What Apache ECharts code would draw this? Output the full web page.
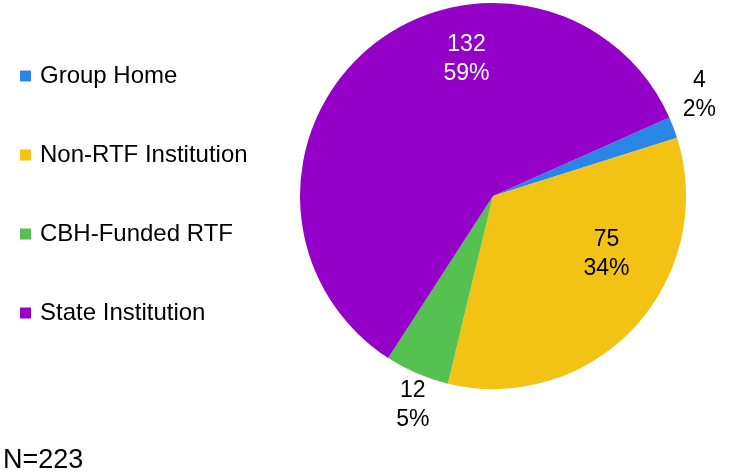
<!DOCTYPE html>
<html>
<head>
<meta charset="utf-8">
<script src="https://cdn.jsdelivr.net/npm/echarts@6/dist/echarts.min.js"></script>
<style>
  html, body { margin: 0; padding: 0; background: #fff; }
  #chart { width: 730px; height: 475px; }
</style>
</head>
<body>
<div id="chart"></div>
<script>
// Placement outcomes
const categories = ['Group Home', 'Non-RTF Institution', 'CBH-Funded RTF', 'State Institution'];
const counts = [4, 75, 12, 132];
const percents = ['2%', '34%', '5%', '59%'];
const totalLabel = 'N=223';

const colors = ['#2a86e6', '#f2c314', '#55c150', '#9400c8'];
const labelColors = ['#000', '#000', '#000', '#fff'];

// Label placement in polar terms: angle (deg, counter-clockwise from 3 o'clock)
// and distance as a fraction of the pie radius.
const labelAngle = [26, -27, -111, 101];
const labelRadius = [1.19, 0.66, 1.16, 0.72];

const cx = 493, cy = 196, R = 193;
const FONT = '"Liberation Sans", Arial, sans-serif';

const chart = echarts.init(document.getElementById('chart'), null, { renderer: 'canvas' });

chart.setOption({
  animation: false,
  color: colors,
  graphic: [{
    type: 'text',
    left: 3,
    top: 447,
    style: { text: totalLabel, fontFamily: FONT, fontSize: 27, fill: '#000' }
  }],
  legend: {
    orient: 'vertical',
    left: 15,
    top: 59,
    itemWidth: 11,
    itemHeight: 11,
    itemGap: 55,
    icon: 'rect',
    data: categories,
    textStyle: { fontFamily: FONT, fontSize: 24, color: '#000', lineHeight: 24, padding: [0, 0, 0, 4] }
  },
  series: [{
    type: 'pie',
    center: [cx, cy],
    radius: [0, R],
    startAngle: 24,
    clockwise: true,
    avoidLabelOverlap: false,
    itemStyle: { borderWidth: 0 },
    label: {
      show: true,
      position: 'inside',
      fontFamily: FONT,
      fontSize: 23,
      lineHeight: 29,
      align: 'center',
      formatter: p => counts[p.dataIndex] + '\n' + percents[p.dataIndex]
    },
    labelLine: { show: false },
    labelLayout: p => {
      const i = p.dataIndex;
      const a = labelAngle[i] * Math.PI / 180;
      const r = labelRadius[i] * R;
      return {
        x: cx + Math.cos(a) * r,
        y: cy - Math.sin(a) * r,
        align: 'center',
        verticalAlign: 'middle'
      };
    },
    data: categories.map((name, i) => ({
      name,
      value: counts[i],
      label: { color: labelColors[i] }
    }))
  }]
});
</script>
</body>
</html>
